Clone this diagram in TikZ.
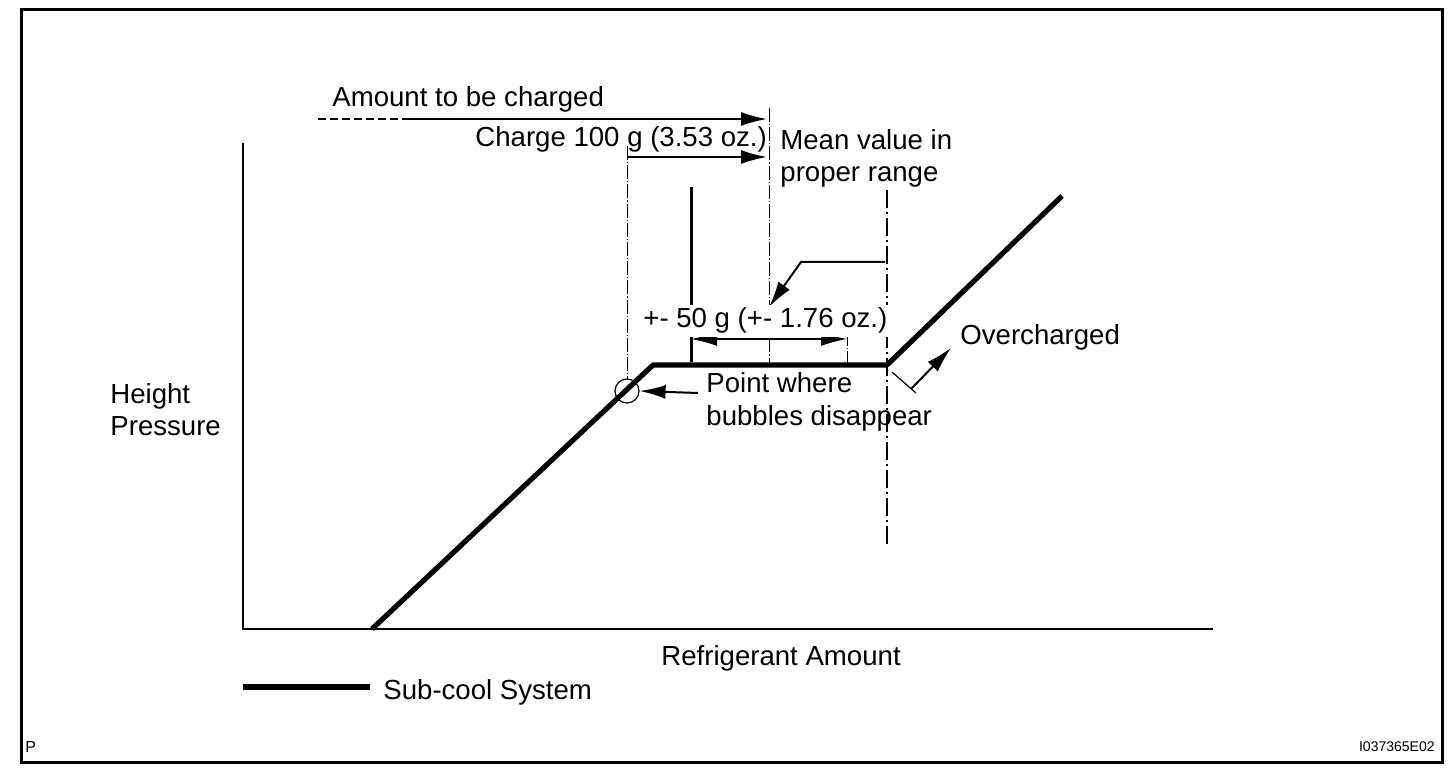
\documentclass[tikz,border=0pt]{standalone}
\usepackage{fontspec}
\setmainfont{Liberation Sans}
\usetikzlibrary{arrows.meta}
\begin{document}
\begin{tikzpicture}[x=0.5pt,y=-0.5pt,
  lbl/.style={font=\fontsize{13.8pt}{16pt}\selectfont, inner sep=0pt, anchor=base west},
  tinylbl/.style={font=\fontsize{7pt}{8pt}\selectfont, inner sep=0pt},
  arr/.style={line width=1pt, -{Latex[length=13pt,width=7pt]}},
  dblarr/.style={line width=0.7pt, {Latex[length=13pt,width=7pt]}-{Latex[length=13pt,width=7pt]}},
  guide/.style={line width=0.5pt, dash pattern=on 7pt off 1pt on 0.6pt off 1pt},
  longguide/.style={line width=0.8pt, dash pattern=on 9pt off 2pt on 1pt off 2pt},
  curveline/.style={line width=2.6pt, line join=round},
  axis/.style={line width=1.2pt}]
\useasboundingbox (0,0) rectangle (1456,780);
\draw[line width=1.5pt] (21,10) rectangle (1442,762);

% coordinates
\coordinate (ytop) at (243,143);
\coordinate (orig) at (243,629);
\coordinate (xend) at (1213,629);
\coordinate (c0) at (372,629);
\coordinate (c1) at (653,365);
\coordinate (c2) at (887,365);
\coordinate (c3) at (1062,196);
\coordinate (bub) at (627,391);

% axes
\draw[axis] (ytop) -- (orig) -- (xend);

% guide lines
\draw[guide] (627,146) -- (627,379);
\draw[guide] (769,108) -- (769,365);
\draw[longguide] (887,190) -- (887,545);
\draw[guide] (847,332) -- (847,365);
\draw[line width=1.5pt] (691,187) -- (691,362);

% curve
\draw[curveline] (c0) -- (c1) -- (c2) -- (c3);

% bubble circle
\node[draw, circle, line width=0.6pt, minimum size=12pt, inner sep=0pt] (circ) at (bub) {};

% top arrows
\coordinate (d0) at (318,119);
\coordinate (d1) at (410,119);
\coordinate (d2) at (767,119);
\draw[line width=1pt, dash pattern=on 4pt off 2pt] (d0) -- (d1);
\draw[arr] (d1) -- (d2);
\coordinate (e0) at (627,157);
\coordinate (e1) at (767,157);
\draw[arr] (e0) -- (e1);

% plus-minus arrow
\coordinate (pm0) at (691,339);
\coordinate (pm1) at (847,339);
\draw[dblarr] (pm0) -- (pm1);

% mean-value pointer
\coordinate (mv0) at (885,262);
\coordinate (mv1) at (801,262);
\coordinate (mv2) at (769,307);
\draw[arr] (mv0) -- (mv1) -- (mv2);

% bubble pointer
\coordinate (bp0) at (698,393);
\draw[arr] (bp0) -- (circ.east);

% overcharged
\coordinate (oc0) at (892,372);
\coordinate (oc1) at (916,393);
\coordinate (oc2) at (911,389);
\coordinate (oc3) at (951,348);
\draw[line width=0.6pt] (oc0) -- (oc1);
\draw[arr] (oc2) -- (oc3);

% legend
\coordinate (lg0) at (243,687);
\coordinate (lg1) at (370,687);
\draw[curveline] (lg0) -- (lg1);

% labels
\node[lbl] (amt) at (332,107) {Amount to be charged};
\node[lbl] (chg) at (475,147) {Charge 100 g (3.53 oz.)};
\node[lbl] (mean1) at (780,150) {Mean value in};
\node[lbl] (mean2) at (780,182) {proper range};
\node[lbl, fill=white, inner sep=1.5pt] (pm) at (640,328) {+- 50 g (+- 1.76 oz.)};
\node[lbl] (pt1) at (706,393) {Point where};
\node[lbl] (pt2) at (706,426) {bubbles disappear};
\node[lbl] (over) at (960,345) {Overcharged};
\node[lbl] (h1) at (110,404) {Height};
\node[lbl] (h2) at (110,436) {Pressure};
\node[lbl] (ref) at (661,665) {Refrigerant Amount};
\node[lbl] (sub) at (383,699) {Sub-cool System};
\node[tinylbl, anchor=base west, font=\fontsize{8pt}{9pt}\selectfont] (p) at (25,752) {P};
\node[tinylbl, anchor=base east] (code) at (1435,751) {I037365E02};
\end{tikzpicture}
\end{document}
